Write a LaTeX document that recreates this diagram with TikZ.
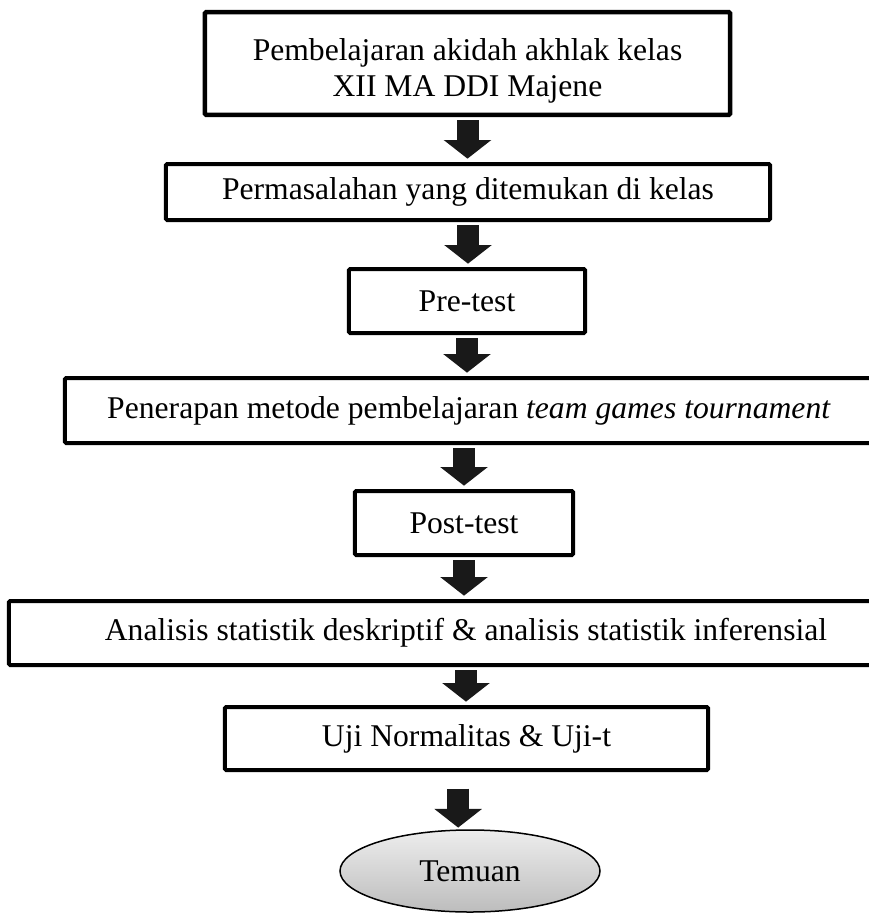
\documentclass[tikz,border=0pt]{standalone}
\usepackage{fontspec}
\setmainfont{Liberation Serif}
\usepackage{tikz}
\usetikzlibrary{shapes}
\usetikzlibrary{arrows.meta}
\tikzset{
	flow box/.style={rectangle,draw,line width=0.12cm,rounded corners=1pt,inner sep=0pt,align=center},
	end node/.style={ellipse,draw,line width=0.045cm,inner sep=0pt,
		top color=white!93!black,bottom color=white!74!black,
		minimum width=7.8cm,minimum height=2.46cm},
	block arrow/.style={draw=black!90,line width=0.66cm,
		-{Triangle[length=0.56cm,width=1.4cm]},shorten <=0.1cm,shorten >=0.1cm}
}

\begin{document}
\begin{tikzpicture}[x=0.03cm,y=-0.03cm,font=\fontsize{27}{31}\selectfont]
	\clip (0,0) rectangle (869,913);
	\node [flow box,line width=0.135cm,minimum width=15.75cm,minimum height=3.08cm] (b1) at (467.5,63.5)
		{\rule{0pt}{1.1cm}Pembelajaran akidah akhlak kelas\\XII MA DDI Majene};
	\node [flow box,minimum width=18.12cm,minimum height=1.68cm] (b2) at (468,192)
		{Permasalahan yang ditemukan di kelas};
	\node [flow box,minimum width=7.08cm,minimum height=1.92cm] (b3) at (467,301) {Pre-test};
	\node [flow box,minimum width=24.24cm,minimum height=1.95cm] (b4) at (469,410.5)
		{Penerapan metode pembelajaran \textit{team games tournament}};
	\node [flow box,minimum width=6.54cm,minimum height=1.92cm] (b5) at (464,523) {Post-test};
	\node [flow box,minimum width=27.42cm,minimum height=1.92cm] (b6) at (466,633)
		{Analisis statistik deskriptif \& analisis statistik inferensial};
	\node [flow box,minimum width=14.49cm,minimum height=1.89cm] (b7) at (466.5,738.5)
		{Uji Normalitas \& Uji-t};
	\node [end node] (b8) at (470,871) {Temuan};
	\draw [block arrow] (b1.south) -- (b1.south |- b2.north);
	\draw [block arrow] (b2.south) -- (b2.south |- b3.north);
	\draw [block arrow] (b3.south) -- (b3.south |- b4.north);
	\draw [block arrow] ([xshift=-0.15cm]b4.south) -- ([xshift=-0.15cm]b4.south |- b5.north);
	\draw [block arrow] (b5.south) -- (b5.south |- b6.north);
	\draw [block arrow] (b6.south) -- (b6.south |- b7.north);
	\draw [block arrow,shorten <=0.5cm,shorten >=0.05cm] ([xshift=-0.25cm]b7.south) -- ([xshift=-0.25cm]b7.south |- b8.north);
\end{tikzpicture}
\end{document}
